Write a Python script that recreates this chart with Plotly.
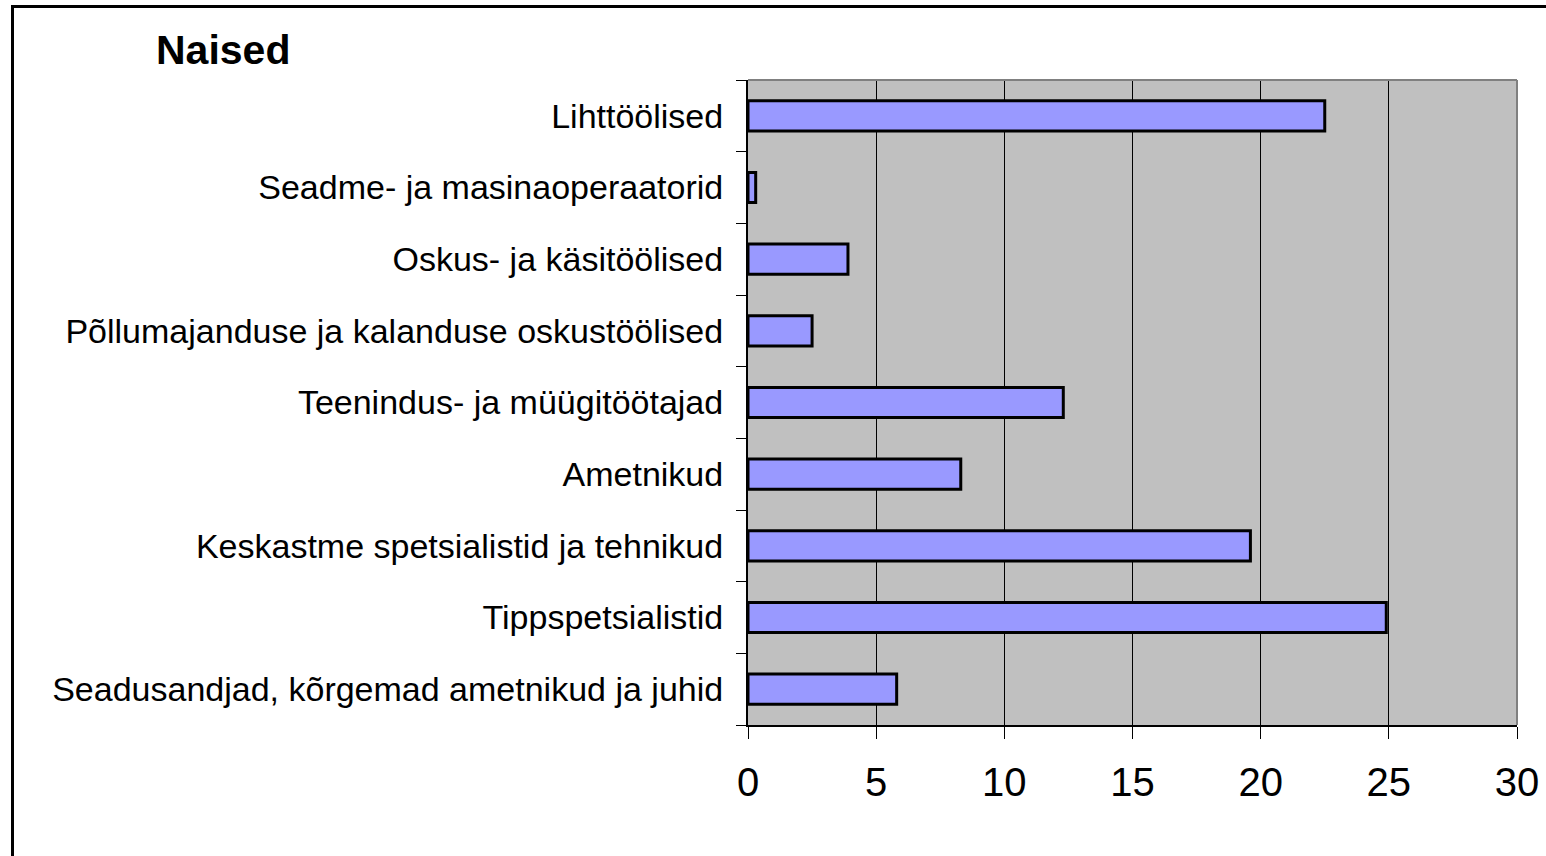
import plotly.graph_objects as go

categories = [
    "Seadusandjad, kõrgemad ametnikud ja juhid",
    "Tippspetsialistid",
    "Keskastme spetsialistid ja tehnikud",
    "Ametnikud",
    "Teenindus- ja müügitöötajad",
    "Põllumajanduse ja kalanduse oskustöölised",
    "Oskus- ja käsitöölised",
    "Seadme- ja masinaoperaatorid",
    "Lihttöölised",
]
values = [5.8, 24.9, 19.6, 8.3, 12.3, 2.5, 3.9, 0.3, 22.5]
x_ticks = [0, 5, 10, 15, 20, 25, 30]
title_text = "Naised"

W, H = 1546, 856
L, R, T, B = 748, 1517, 80, 725

fig = go.Figure()
fig.add_trace(go.Bar(
    y=categories, x=values, orientation="h",
    marker=dict(color="#9999FF", line=dict(color="black", width=3)),
    width=0.42,
))

def px2x(px):
    return (px - L) / (R - L)

def py2y(py):
    return (B - py) / (B - T)

shapes = [
    dict(type="line", xref="paper", yref="paper", x0=0, x1=1, y0=1, y1=1,
         line=dict(color="#808080", width=2)),
    dict(type="line", xref="paper", yref="paper", x0=1, x1=1, y0=0, y1=1,
         line=dict(color="#808080", width=2)),
    dict(type="rect", xref="paper", yref="paper",
         x0=px2x(12.5), x1=px2x(1570), y0=py2y(870), y1=py2y(6.5),
         line=dict(color="black", width=3), fillcolor="rgba(0,0,0,0)"),
]

fig.update_layout(
    width=W, height=H,
    margin=dict(l=L, r=W - R, t=T, b=H - B),
    paper_bgcolor="white",
    plot_bgcolor="#C0C0C0",
    showlegend=False,
    shapes=shapes,
    font=dict(family="Liberation Sans, Arial, sans-serif", color="black"),
    annotations=[dict(
        text="<b>" + title_text + "</b>", xref="paper", yref="paper",
        x=px2x(154), y=py2y(50), xanchor="left", yanchor="middle",
        showarrow=False, font=dict(size=41, family="Liberation Sans, Arial, sans-serif"),
    )],
)
fig.update_xaxes(
    range=[0, 30], tickvals=x_ticks, ticktext=[str(v) for v in x_ticks],
    showgrid=True, gridcolor="black", gridwidth=1,
    showline=True, linecolor="black", linewidth=2,
    ticks="outside", ticklen=12, tickcolor="black", tickwidth=1,
    tickfont=dict(size=40, family="Liberation Sans, Arial, sans-serif"),
    ticklabelstandoff=9, zeroline=False, fixedrange=True, automargin=False,
)
fig.update_yaxes(
    categoryorder="array", categoryarray=categories,
    showgrid=False, showline=True, linecolor="black", linewidth=2,
    ticks="outside", ticklen=10, tickcolor="black", tickwidth=1,
    tickson="boundaries",
    tickfont=dict(size=34),
    ticklabelstandoff=16, fixedrange=True, automargin=False,
)

fig.write_html(
    "out.html",
    config={"displayModeBar": False},
    post_script="document.body.style.margin='0';document.body.style.overflow='hidden';",
)
